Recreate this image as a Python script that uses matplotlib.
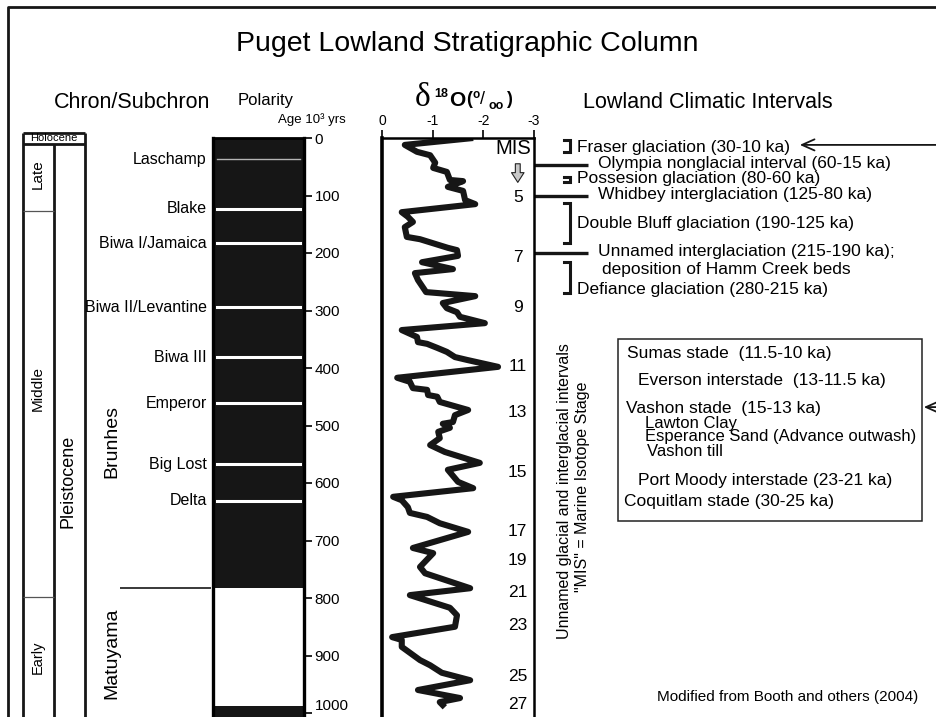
import matplotlib
matplotlib.use('Agg')
import matplotlib.pyplot as plt
from matplotlib.patches import Rectangle

plt.rcParams['font.family'] = ['Liberation Sans', 'DejaVu Sans']
plt.rcParams['axes.unicode_minus'] = False

# --- data (ages in ka) ---
polarity_start = [0, 783, 988]
polarity_end = [783, 988, 1070]
polarity_normal = [True, False, True]

excursions = ['Laschamp', 'Blake', 'Biwa I/Jamaica', 'Biwa II/Levantine',
              'Biwa III', 'Emperor', 'Big Lost', 'Delta']
excursion_age = [37, 123, 183, 294, 381, 461, 567, 631]

age_ticks = [0, 100, 200, 300, 400, 500, 600, 700, 800, 900, 1000]

epoch_bounds = [10, 127, 798]      # Holocene base, Late/Middle, Middle/Early
brunhes_matuyama = 783

d18o = [-1.80, -0.45, -0.69, -0.95, -1.05, -1.01, -1.28, -1.34, -1.60, -1.30,
        -1.60, -1.64, -1.84, -0.39, -0.51, -0.61, -0.45, -0.49, -0.75, -1.30,
        -1.48, -1.50, -0.79, -1.40, -0.65, -0.71, -0.87, -1.84, -1.20, -1.28,
        -1.48, -1.54, -2.03, -0.39, -0.69, -0.71, -0.89, -1.09, -1.28, -1.44,
        -1.68, -2.29, -0.30, -0.55, -0.61, -0.89, -0.91, -1.09, -1.14, -1.70,
        -1.44, -1.40, -1.20, -1.34, -1.11, -1.14, -0.95, -1.24, -1.93, -1.30,
        -1.50, -1.80, -0.22, -0.39, -0.51, -0.55, -0.89, -1.14, -1.70, -0.61,
        -1.01, -0.75, -0.85, -1.74, -0.55, -1.34, -1.48, -1.44, -0.20, -0.39,
        -0.39, -0.75, -0.95, -1.18, -1.74, -0.71, -1.54, -1.14, -1.24]
age_ka = [0, 12, 24, 30, 43, 52, 59, 73, 75, 85,
          92, 108, 115, 129, 137, 146, 155, 172, 176, 191,
          195, 205, 216, 228, 235, 247, 268, 275, 287, 296,
          303, 311, 322, 334, 346, 355, 358, 365, 372, 381,
          386, 398, 417, 424, 435, 438, 447, 450, 459, 473,
          482, 494, 497, 504, 511, 522, 534, 546, 565, 577,
          598, 609, 624, 630, 642, 652, 659, 670, 685, 713,
          722, 746, 757, 783, 795, 817, 830, 850, 868, 873,
          885, 908, 917, 930, 943, 960, 974, 981, 990]

mis_stage = ['5', '7', '9', '11', '13', '15', '17', '19', '21', '23', '25', '27']
mis_age = [103, 207, 294, 398, 477, 581, 685, 734, 790, 847, 937, 986]

d18o_ticks = [0, -1, -2, -3]

interglacials = ['Olympia nonglacial interval (60-15 ka)',
                 'Whidbey interglaciation (125-80 ka)',
                 'Unnamed interglaciation (215-190 ka);']
interglacial_age = [47, 101, 200]
glacials = ['Fraser glaciation (30-10 ka)', 'Possesion glaciation (80-60 ka)',
            'Double Bluff glaciation (190-125 ka)', 'Defiance glaciation (280-215 ka)']
glacial_top = [4, 68, 113, 216]
glacial_bot = [24, 77, 183, 270]
glacial_label_age = [16, 71, 148, 263]

fraser_units = ['Sumas stade  (11.5-10 ka)', 'Everson interstade  (13-11.5 ka)',
                'Vashon stade  (15-13 ka)', 'Lawton Clay',
                'Esperance Sand (Advance outwash)', 'Vashon till',
                'Port Moody interstade (23-21 ka)', 'Coquitlam stade (30-25 ka)']

# --- layout ---
W, H = 936, 717
TOP = 138          # pixel row of age 0
PX = 0.575         # pixels per ka
AGE_BOT = (H - TOP) / PX
AGE_TOP = -TOP / PX
INK = '#161616'

fig = plt.figure(figsize=(W / 100, H / 100), dpi=100)

# pixel overlay for headings and frame
ax0 = fig.add_axes([0, 0, 1, 1])
ax0.set_xlim(0, W)
ax0.set_ylim(H, 0)
ax0.axis('off')
ax0.plot([8, 8, W], [H, 7, 7], color=INK, lw=2, solid_capstyle='butt')
ax0.text(467, 44, 'Puget Lowland Stratigraphic Column', fontsize=20.5, ha='center', va='center')
ax0.text(132, 103, 'Chron/Subchron', fontsize=15.5, ha='center', va='center')
ax0.text(266, 101, 'Polarity', fontsize=12, ha='center', va='center')
ax0.text(312, 120, 'Age 10³ yrs', fontsize=9.5, ha='center', va='center')
ax0.text(708, 103, 'Lowland Climatic Intervals', fontsize=15.5, ha='center', va='center')
ax0.text(423, 98, 'δ', fontsize=24, family=['Liberation Serif', 'DejaVu Serif'], ha='center', va='center')
ax0.text(441, 94, '18', fontsize=9, weight='bold', ha='center', va='center')
ax0.text(457, 101, 'O', fontsize=15, weight='bold', ha='center', va='center')
ax0.text(469, 100, '(', fontsize=13, weight='bold', ha='center', va='center')
ax0.text(476, 95, 'o', fontsize=8.5, weight='bold', ha='center', va='center')
ax0.text(483, 100, '/', fontsize=13, ha='center', va='center')
ax0.text(496, 106, 'oo', fontsize=9, weight='bold', ha='center', va='center')
ax0.text(509, 100, ')', fontsize=13, weight='bold', ha='center', va='center')

# full-width axes: x in pixels, y in ka
axA = fig.add_axes([0, 0, 1, 1])
axA.set_xlim(0, W)
axA.set_ylim(AGE_BOT, AGE_TOP)
axA.axis('off')
axA.patch.set_alpha(0)

# epoch / series column
axA.vlines([23, 85], -9, AGE_BOT, color=INK, lw=2)
axA.vlines(54, epoch_bounds[0], AGE_BOT, color=INK, lw=2)
axA.hlines([-9, epoch_bounds[0]], 23, 85, color=INK, lw=2)
axA.hlines(epoch_bounds[1:], 23, 54, color='#555555', lw=0.9)
axA.text(54, (epoch_bounds[0] - 9) / 2, 'Holocene', fontsize=8, ha='center', va='center')
axA.text(38, 63, 'Late', fontsize=11, rotation=90, ha='center', va='center')
axA.text(38, 435, 'Middle', fontsize=11, rotation=90, ha='center', va='center')
axA.text(38, 903, 'Early', fontsize=10.5, rotation=90, ha='center', va='center')
axA.text(68, 597, 'Pleistocene', fontsize=13, rotation=90, ha='center', va='center')

# chrons
axA.hlines(brunhes_matuyama, 120, 211, color=INK, lw=1.2)
axA.text(112, 527, 'Brunhes', fontsize=14, rotation=90, ha='center', va='center')
axA.text(112, 896, 'Matuyama', fontsize=14, rotation=90, ha='center', va='center')

# polarity column
axP = fig.add_axes([213 / W, 0, 91 / W, (H - TOP) / H])
axP.set_xlim(0, 1)
axP.set_ylim(AGE_BOT, 0)
axP.patch.set_alpha(0)
for s, e, n in zip(polarity_start, polarity_end, polarity_normal):
    axP.axhspan(s, e, color=INK if n else 'white', lw=0)
for name, a in zip(excursions, excursion_age):
    thin = name == 'Laschamp'
    axP.axhline(a, 0.04, 0.96, color='#b4b4b4' if thin else 'white', lw=1 if thin else 2.2)
    axP.text(-0.07, a, name, transform=axP.get_yaxis_transform(), fontsize=11.5,
             ha='right', va='center')
for side in ['left', 'right']:
    axP.spines[side].set_linewidth(2.4)
axP.spines['top'].set_linewidth(2)
axP.spines['bottom'].set_visible(False)
axP.set_xticks([])
axP.yaxis.tick_right()
axP.set_yticks(age_ticks)
axP.set_yticklabels([str(t) for t in age_ticks], fontsize=11)
axP.tick_params(axis='y', length=6, width=1.2, pad=1.5)
axP.get_yticklabels()[-1].set_va('bottom')

# d18O curve
axD = fig.add_axes([382 / W, 0, (534 - 382) / W, (H - TOP) / H])
axD.set_xlim(0, -3)
axD.set_ylim(AGE_BOT, 0)
axD.patch.set_alpha(0)
axD.plot(d18o, age_ka, color=INK, lw=4.4, solid_joinstyle='round', solid_capstyle='butt')
axD.spines['left'].set_linewidth(2.6)
axD.spines['right'].set_linewidth(1.8)
axD.spines['top'].set_linewidth(1.8)
axD.spines['bottom'].set_visible(False)
axD.set_yticks([])
axD.xaxis.tick_top()
axD.set_xticks(d18o_ticks)
axD.set_xticklabels([str(t) for t in d18o_ticks], fontsize=10)
axD.tick_params(axis='x', length=6, width=1.2, pad=1)
for s, a in zip(mis_stage, mis_age):
    axD.text(-2.68, a, s, fontsize=12.5, ha='center', va='center')
axD.text(-2.6, 18, 'MIS', fontsize=14.5, ha='center', va='center')
axD.annotate('', xy=(-2.68, 82), xytext=(-2.68, 40),
             arrowprops=dict(arrowstyle='simple,head_length=0.7,head_width=0.9,tail_width=0.35',
                             fc='#c8c8c8', ec='#222222', lw=0.8))

# climatic intervals
axA.hlines(interglacial_age, 534, 588, color=INK, lw=2.4)
for t, a in zip(interglacials, interglacial_age):
    axA.text(598, a - 2, t, fontsize=12.5, ha='left', va='center')
axA.text(602, 228, 'deposition of Hamm Creek beds', fontsize=12.5, ha='left', va='center')
for t, a0, a1, al in zip(glacials, glacial_top, glacial_bot, glacial_label_age):
    axA.plot([564, 570, 570, 564], [a0, a0, a1, a1], color=INK, lw=2.2,
             solid_joinstyle='miter')
    axA.text(577, al, t, fontsize=12.5, ha='left', va='center')
for a, x_tip in [(12, 797), (468, 921)]:
    axA.annotate('', xy=(x_tip, a), xytext=(W + 5, a),
                 arrowprops=dict(arrowstyle='->,head_length=0.9,head_width=0.4', lw=1.3, color=INK))

axA.text(564, 614, 'Unnamed glacial and interglacial intervals', fontsize=11.5,
         rotation=90, ha='center', va='center')
axA.text(582, 607, '"MIS" = Marine Isotope Stage', fontsize=11.5,
         rotation=90, ha='center', va='center')

# Fraser glaciation detail box
axA.add_patch(Rectangle((618, 350), 922 - 618, 666 - 350, fill=False, ec='#222222', lw=1.1))
box_x = [627, 638, 626, 645, 645, 647, 638, 624]
box_age = [374, 421, 470, 496, 520, 546, 595, 633]
box_size = [12.5, 12.5, 12.5, 12, 12, 12, 12.5, 12.5]
for t, x, a, fs in zip(fraser_units, box_x, box_age, box_size):
    axA.text(x, a, t, fontsize=fs, ha='left', va='center')

axA.text(918, 972, 'Modified from Booth and others (2004)', fontsize=11, ha='right', va='center')

fig.savefig('out.png', dpi=100)
